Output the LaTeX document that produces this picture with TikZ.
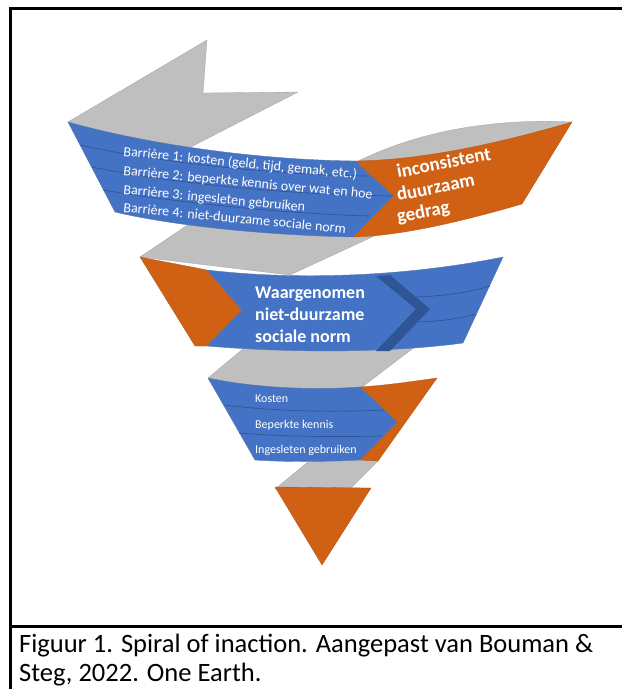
\documentclass[tikz,border=0pt]{standalone}
\usepackage{fontspec}
\setmainfont{Carlito}
\usetikzlibrary{shapes,arrows}
\definecolor{ribbonblue}{RGB}{68,114,196}
\definecolor{ribbondark}{RGB}{47,85,151}
\definecolor{ribbonorange}{RGB}{208,96,20}
\definecolor{ribbongray}{RGB}{191,191,191}
\tikzstyle{blueband} = [fill=ribbonblue, draw=ribbondark!80, line width=0.4pt]
\tikzstyle{orangeband} = [fill=ribbonorange, draw=ribbonorange!85!black, line width=0.3pt]
\tikzstyle{backband} = [fill=ribbongray, draw=ribbongray!85!black, line width=0.3pt]
\tikzstyle{divider} = [draw=ribbondark, line width=0.7pt]
\tikzstyle{barrier} = [text=white, font=\fontsize{14}{16}\selectfont,
    anchor=base west, inner sep=0pt, rotate=-5.5]
\tikzstyle{outcome} = [text=white, font=\bfseries\fontsize{19}{22}\selectfont,
    anchor=base west, inner sep=0pt]
\tikzstyle{minor} = [text=white, font=\fontsize{12}{14}\selectfont,
    anchor=base west, inner sep=0pt]
\tikzstyle{caption} = [font=\fontsize{26.5}{30}\selectfont, anchor=base west, inner sep=0pt]
\tikzstyle{frame} = [draw, line width=3.3pt]

\begin{document}
\begin{tikzpicture} [x=1pt, y=-1pt]
    \useasboundingbox (0,0) rectangle (622,689);
    % Back of the ribbon
    \path [backband] (68,122) -- (207,40) -- (203,93) -- (298,92) -- (185,150) -- (120,150) -- cycle;
    \path [backband] (572,122) .. controls (490,118) and (410,132) .. (345,168) -- (420,190) -- cycle;
    \path [backband] (195,220) -- (398,225) -- (290,275) -- (140,257) -- cycle;
    \path [backband] (250,343) -- (420,343) -- (345,400) -- (230,400) -- (208,378) -- cycle;
    \path [backband] (320,452) -- (380,452) -- (378,461) -- (350,489) -- (275,489) -- cycle;
    % Top turn
    \path [orangeband] (355,161) .. controls (430,160) and (510,140) .. (572,122) -- (522,204)
        .. controls (460,222) and (400,236) .. (353,237) -- (393,196) -- cycle;
    \path [blueband] (68,122) .. controls (150,145) and (260,160) .. (355,161) -- (393,196)
        -- (353,237) .. controls (260,235) and (170,225) .. (115,212) -- cycle;
    \path [divider] (80,145) .. controls (160,163) and (280,175) .. (368,176);
    \path [divider] (92,167) .. controls (170,183) and (290,195) .. (393,196);
    \path [divider] (103,190) .. controls (180,203) and (290,214) .. (370,216);
    % Middle turn
    \path [orangeband] (140,257) -- (207,270) -- (242,310) -- (207,346) -- (195,346) -- cycle;
    \path [blueband] (207,270) .. controls (300,281) and (410,276) .. (503,257) -- (463,343)
        .. controls (390,353) and (290,353) .. (207,346) -- (242,310) -- cycle;
    \path [fill=ribbondark] (376,276) -- (390,275) -- (430,309) -- (390,351) -- (376,351) -- (416,309) -- cycle;
    \path [divider] (416,297) .. controls (445,296) and (470,292) .. (490,286);
    \path [divider] (418,322) .. controls (445,321) and (462,318) .. (476,314);
    % Bottom turn
    \path [orangeband] (360,387) .. controls (390,385) and (415,381) .. (437,378) -- (378,461)
        -- (360,460) -- (397,422) -- cycle;
    \path [blueband] (208,378) .. controls (260,389) and (320,390) .. (360,387) -- (397,422)
        -- (360,460) .. controls (320,462) and (285,462) .. (255,460) -- cycle;
    \path [divider] (224,405) .. controls (280,412) and (340,412) .. (384,410);
    \path [divider] (239,433) .. controls (290,437) and (340,437) .. (383,436);
    \path [orangeband] (275,487) -- (371,488) -- (322,565) -- cycle;
    % Nodes
    \node [barrier] (b1) at (123,156) {Barrière 1: kosten (geld, tijd, gemak, etc.)};
    \node [barrier] (b2) at (123,175) {Barrière 2: beperkte kennis over wat en hoe};
    \node [barrier] (b3) at (123,194) {Barrière 3: ingesleten gebruiken};
    \node [barrier] (b4) at (123,212) {Barrière 4: niet-duurzame sociale norm};
    \node [outcome, rotate=11] (inc) at (398,178) {inconsistent};
    \node [outcome, rotate=11] (duur) at (398,201) {duurzaam};
    \node [outcome, rotate=11] (gedr) at (398,223) {gedrag};
    \node [outcome, font=\bfseries\fontsize{18}{22}\selectfont] (norm1) at (255,298) {Waargenomen};
    \node [outcome, font=\bfseries\fontsize{18}{22}\selectfont] (norm2) at (255,320) {niet-duurzame};
    \node [outcome, font=\bfseries\fontsize{18}{22}\selectfont] (norm3) at (255,342) {sociale norm};
    \node [minor] (kost) at (255,402) {Kosten};
    \node [minor] (kenn) at (255,428) {Beperkte kennis};
    \node [minor] (gebr) at (255,453) {Ingesleten gebruiken};
    % Frame and caption
    \path [frame] (10.5,689) -- (10.5,8.5) -- (622,8.5);
    \path [frame] (10.5,626.5) -- (622,626.5);
    \node [caption] (cap1) at (19,652.5) {Figuur 1. Spiral of inaction. Aangepast van Bouman \&};
    \node [caption] (cap2) at (19,681.5) {Steg, 2022. One Earth.};
\end{tikzpicture}
\end{document}
